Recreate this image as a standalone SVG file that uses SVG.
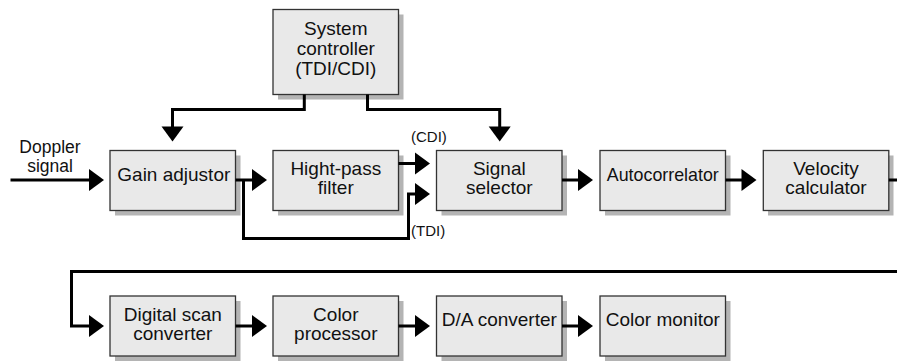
<svg xmlns="http://www.w3.org/2000/svg" width="897" height="361" viewBox="0 0 897 361">
<style>
.shadow{fill:#b4b4b4;stroke:none}
.box{fill:#e9e9e9;stroke:#333;stroke-width:1.3}
.t{font-family:"Liberation Sans",Arial,Helvetica,sans-serif;font-size:19px;fill:#111;text-anchor:middle}
.d{font-size:17.5px}
.lbl{font-family:"Liberation Sans",Arial,Helvetica,sans-serif;font-size:15px;fill:#111}
.c{fill:none;stroke:#000;stroke-width:3;stroke-linejoin:miter;stroke-linecap:butt;marker-end:url(#ah)}
.cn{fill:none;stroke:#000;stroke-width:3;stroke-linejoin:miter;stroke-linecap:butt}
</style>
<defs>
<marker id="ah" markerUnits="userSpaceOnUse" markerWidth="16" markerHeight="23" refX="2" refY="11" orient="auto" viewBox="0 0 16 22" overflow="visible">
<path d="M0,0 L15,11 L0,22 z" fill="#000"/>
</marker>
</defs>
<rect width="897" height="361" fill="#fff"/>

<g id="system-controller">
<rect class="shadow" x="278" y="14.5" width="125.5" height="85"/>
<rect class="box" x="273" y="9.5" width="125.5" height="85"/>
<text class="t" x="335.8" y="34.5">System</text>
<text class="t" x="335.8" y="54.5">controller</text>
<text class="t" x="335.8" y="74.5">(TDI/CDI)</text>
</g>

<g id="doppler-label">
<text class="t d" x="50" y="153">Doppler</text>
<text class="t d" x="50" y="172">signal</text>
</g>

<g id="gain-adjustor">
<rect class="shadow" x="115" y="155.5" width="125.5" height="60"/>
<rect class="box" x="110" y="150.5" width="125.5" height="60"/>
<text class="t" x="173.8" y="181">Gain adjustor</text>
</g>

<g id="highpass-filter">
<rect class="shadow" x="278" y="155.5" width="125.5" height="60"/>
<rect class="box" x="273" y="150.5" width="125.5" height="60"/>
<text class="t" x="335.8" y="174.5">Hight-pass</text>
<text class="t" x="335.8" y="194">filter</text>
</g>

<g id="signal-selector">
<rect class="shadow" x="441.5" y="155.5" width="125.5" height="60"/>
<rect class="box" x="436.5" y="150.5" width="125.5" height="60"/>
<text class="t" x="499.3" y="174.5">Signal</text>
<text class="t" x="499.3" y="194">selector</text>
</g>

<g id="autocorrelator">
<rect class="shadow" x="605" y="155.5" width="125.5" height="60"/>
<rect class="box" x="600" y="150.5" width="125.5" height="60"/>
<text class="t" x="662.8" y="180.5" textLength="112" lengthAdjust="spacingAndGlyphs">Autocorrelator</text>
</g>

<g id="velocity-calculator">
<rect class="shadow" x="768" y="155.5" width="125.5" height="60"/>
<rect class="box" x="763.3" y="150.5" width="125.5" height="60"/>
<text class="t" x="826" y="174.5">Velocity</text>
<text class="t" x="826" y="194">calculator</text>
</g>

<g id="digital-scan-converter">
<rect class="shadow" x="115" y="301" width="125.5" height="60"/>
<rect class="box" x="110" y="296" width="125.5" height="60"/>
<text class="t" x="172.8" y="320.5">Digital scan</text>
<text class="t" x="172.8" y="340">converter</text>
</g>

<g id="color-processor">
<rect class="shadow" x="278" y="301" width="125.5" height="60"/>
<rect class="box" x="273" y="296" width="125.5" height="60"/>
<text class="t" x="335.8" y="320.5">Color</text>
<text class="t" x="335.8" y="340">processor</text>
</g>

<g id="da-converter">
<rect class="shadow" x="441.5" y="301" width="125.5" height="60"/>
<rect class="box" x="436.5" y="296" width="125.5" height="60"/>
<text class="t" x="499.3" y="326">D/A converter</text>
</g>

<g id="color-monitor">
<rect class="shadow" x="605" y="301" width="125.5" height="60"/>
<rect class="box" x="600" y="296" width="125.5" height="60"/>
<text class="t" x="662.8" y="326">Color monitor</text>
</g>

<g id="connectors">
<path class="c" d="M10.5,180 H91"/>
<path class="c" d="M235.5,180 H254"/>
<path class="c" d="M243.5,180 V238.5 H408.5 V194 H417"/>
<path class="c" d="M398.5,163.5 H417"/>
<path class="c" d="M304.3,94.5 V109.5 H172.5 V128.5"/>
<path class="c" d="M367.5,94.5 V109.5 H499.7 V128.5"/>
<path class="c" d="M562,180 H580"/>
<path class="c" d="M725.5,180 H743.5"/>
<path class="cn" d="M888.8,180 H900"/>
<path class="c" d="M900,271.5 H71.5 V326 H91"/>
<path class="c" d="M235.5,326 H254"/>
<path class="c" d="M398.5,326 H417"/>
<path class="c" d="M562,326 H580"/>
<text class="lbl" x="411" y="142">(CDI)</text>
<text class="lbl" x="411" y="236">(TDI)</text>
</g>
</svg>
